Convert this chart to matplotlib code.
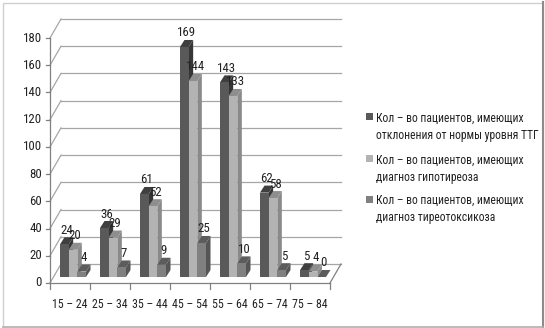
import matplotlib
matplotlib.use("Agg")
import matplotlib.pyplot as plt
from matplotlib.patches import Polygon, Rectangle
from matplotlib.lines import Line2D
from matplotlib import font_manager

categories = ["15 – 24", "25 – 34", "35 – 44", "45 – 54", "55 – 64", "65 – 74", "75 – 84"]
series_names = [
    "Кол – во пациентов, имеющих\nотклонения от нормы уровня ТТГ",
    "Кол – во пациентов, имеющих\nдиагноз гипотиреоза",
    "Кол – во пациентов, имеющих\nдиагноз тиреотоксикоза",
]
s_ttg = [24, 36, 61, 169, 143, 62, 5]
s_hypo = [20, 29, 52, 144, 133, 58, 4]
s_thyro = [4, 7, 9, 25, 10, 5, 0]
series = [s_ttg, s_hypo, s_thyro]
yticks = list(range(0, 181, 20))

front_c = ["#595959", "#b3b3b3", "#808080"]
top_c = ["#3f3f3f", "#8e8e8e", "#5c5c5c"]
side_c = ["#363636", "#8a8a8a", "#555555"]

available = {f.name for f in font_manager.fontManager.ttflist}
cands = ["Liberation Sans Narrow", "DejaVu Sans Condensed", "Roboto Condensed",
         "Open Sans Condensed", "Noto Sans Condensed", "Roboto", "Noto Sans"]
main = next((c for c in cands if c in available), "DejaVu Sans")
FONT = [main, "DejaVu Sans"]
narrow = main in ("Liberation Sans Narrow", "DejaVu Sans Condensed", "Roboto Condensed",
                  "Open Sans Condensed", "Noto Sans Condensed")
fs_tick = 9.3 if narrow else 8
fs_cat = 8.6 if narrow else 7.5
fs_leg = 8.4 if narrow else 7.2
leg_stretch = "normal" if narrow else "condensed"

W, H = 545, 328
fig = plt.figure(figsize=(W / 100, H / 100), dpi=100)

ax_l, ax_b, ax_w, ax_h = 50, 45, 280, 245
ax = fig.add_axes([ax_l / W, ax_b / H, ax_w / W, ax_h / H])
n = len(categories)
ymax = 180
ax.set_xlim(0, n)
ax.set_ylim(0, ymax)
ax.axis("off")

pxx = ax_w / n
pxy = ax_h / ymax
def dx(p):
    return p / pxx
def dy(p):
    return p / pxy

grid_c = "#a6a6a6"
BX, BY = dx(11), dy(19)
# back wall / grid
for v in yticks:
    ax.plot([0, BX], [v, v + BY], color=grid_c, lw=0.9, clip_on=False, zorder=1)
    ax.plot([BX, n + BX], [v + BY, v + BY], color=grid_c, lw=0.9, clip_on=False, zorder=1)
    ax.plot([-dx(4), 0], [v, v], color="#808080", lw=0.9, clip_on=False, zorder=1)
    ax.text(-dx(8), v, str(v), ha="right", va="center", fontsize=fs_tick,
            family=FONT, color="#222222")
# front axis and floor
ax.plot([0, 0], [0, ymax], color="#808080", lw=0.9, clip_on=False, zorder=1)
ax.plot([0, n], [0, 0], color="#808080", lw=0.9, clip_on=False, zorder=1)
ax.plot([n, n + BX], [0, BY], color="#808080", lw=0.9, clip_on=False, zorder=1)
for i in range(n + 1):
    ax.plot([i, i], [0, -dy(6)], color="#808080", lw=0.9, clip_on=False, zorder=1)
for i, c in enumerate(categories):
    ax.text(i + 0.5, -dy(22), c, ha="center", va="center", fontsize=fs_cat,
            family=FONT, color="#222222")

# bars
ox, oy = dx(3.5), dy(6)
ddx, ddy = dx(4.5), dy(7)
bw = 0.2167
start = 0.1625
z = 5
for i in range(n):
    for j, s in enumerate(series):
        v = s[i]
        x0 = i + start + j * bw + ox
        x1 = x0 + bw
        y0 = oy
        y1 = oy + v
        ax.add_patch(Polygon([(x1, y0), (x1, y1), (x1 + ddx, y1 + ddy), (x1 + ddx, y0 + ddy)],
                             closed=True, facecolor=side_c[j], edgecolor="none",
                             clip_on=False, zorder=z))
        ax.add_patch(Polygon([(x0, y1), (x1, y1), (x1 + ddx, y1 + ddy), (x0 + ddx, y1 + ddy)],
                             closed=True, facecolor=top_c[j], edgecolor="none",
                             clip_on=False, zorder=z))
        ax.add_patch(Rectangle((x0, y0), bw, v, facecolor=front_c[j], edgecolor="none",
                               clip_on=False, zorder=z + 0.5))
        z += 1
        ax.text((x0 + x1) / 2 + ddx / 2, y1 + ddy + dy(0.5), str(v), ha="center", va="bottom",
                fontsize=fs_tick, family=FONT, color="#222222", zorder=100)

# legend
leg_y = [117, 159, 199]
for k, name in enumerate(series_names):
    yy = 1 - leg_y[k] / H
    fig.patches.append(Rectangle((366 / W, yy - 3.5 / H), 7 / W, 7 / H, facecolor=front_c[k],
                                 edgecolor="none", transform=fig.transFigure))
    fig.text(376 / W, yy + 5.5 / H, name, ha="left", va="top", fontsize=fs_leg,
             family=FONT, stretch=leg_stretch, color="#222222", linespacing=1.5)

# border
fig.patches.append(Rectangle((2.5 / W, 0.5 / H), 540 / W, 325 / H, fill=False,
                             edgecolor="#d0d0d0", lw=1, transform=fig.transFigure))
fig.lines.append(Line2D([542.5 / W, 542.5 / W], [1 / H, 1 - 2 / H], color="#8c8c8c", lw=1.5,
                        transform=fig.transFigure))
fig.lines.append(Line2D([3 / W, 543 / W], [1.5 / H, 1.5 / H], color="#b0b0b0", lw=1.2,
                        transform=fig.transFigure))

fig.savefig("out.png", dpi=100)
